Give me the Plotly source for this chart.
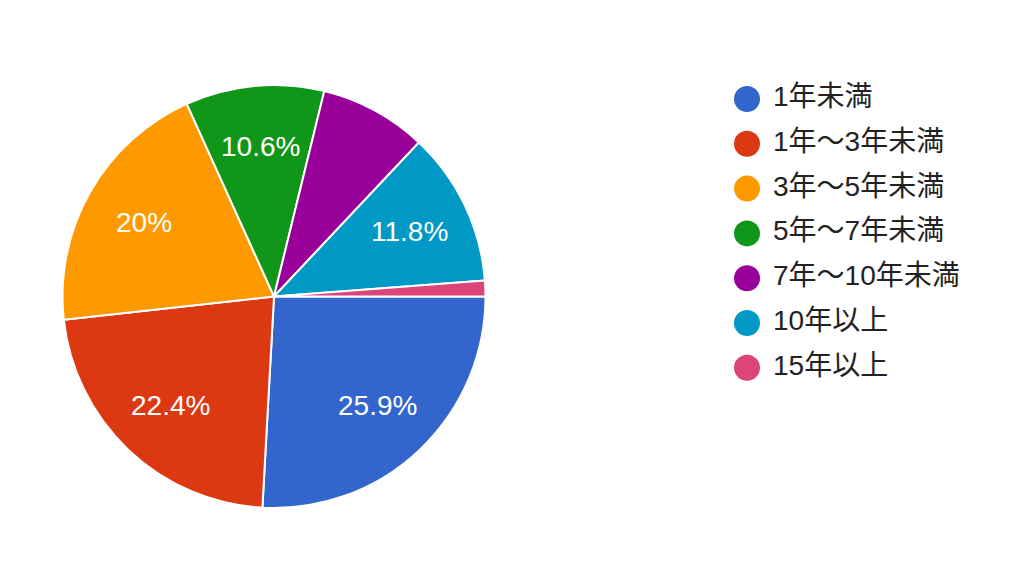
import math
import plotly.graph_objects as go

categories = ["1年未満", "1年～3年未満", "3年～5年未満", "5年～7年未満", "7年～10年未満", "10年以上", "15年以上"]
values = [25.9, 22.4, 20.0, 10.6, 8.2, 11.8, 1.2]
colors = ["#3366cc", "#dc3912", "#ff9900", "#109618", "#990099", "#0099c6", "#dd4477"]

FONT = "Liberation Sans, Arial, Noto Sans CJK JP, sans-serif"
W, H = 1024, 576

# pie geometry in pixels (layout)
CX, CY, R = 274, 296.5, 211.5
LABEL_R = 0.71

fig = go.Figure()
fig.add_trace(go.Pie(
    labels=categories,
    values=values,
    sort=False,
    direction="clockwise",
    rotation=90,
    marker=dict(colors=colors, line=dict(color="white", width=2)),
    textinfo="none",
    showlegend=False,
    hoverinfo="label+percent",
    domain=dict(x=[(CX - R) / W, (CX + R) / W], y=[1 - (CY + R) / H, 1 - (CY - R) / H]),
))

# slice labels positioned from the data (mid-angle of each slice)
total = sum(values)
cum = 0.0
for v in values:
    mid = (cum + v / 2) / total
    cum += v
    if v < 10:
        continue
    ang = 2 * math.pi * mid  # clockwise from 3 o'clock
    px = CX + LABEL_R * R * math.cos(ang)
    py = CY + LABEL_R * R * math.sin(ang)
    fig.add_annotation(
        x=px / W, y=1 - py / H, xref="paper", yref="paper",
        text=f"{v:g}%", showarrow=False,
        font=dict(color="white", size=28, family=FONT),
        xanchor="center", yanchor="middle",
    )

# custom legend drawn as scatter traces on hidden axes
idx = list(range(len(categories)))
fig.add_trace(go.Scatter(
    x=[30] * len(categories), y=idx, mode="markers",
    marker=dict(symbol="circle", size=26, color=colors),
    showlegend=False, hoverinfo="skip", cliponaxis=False,
))
fig.add_trace(go.Scatter(
    x=[56] * len(categories), y=idx, mode="text",
    text=categories, textposition="middle right",
    textfont=dict(size=28, color="#222222", family=FONT),
    showlegend=False, hoverinfo="skip", cliponaxis=False,
))

top_px, step = 99, 44.8
y0_px = top_px - step / 2
y1_px = top_px + step * (len(categories) - 0.5)
fig.update_layout(
    width=W, height=H,
    margin=dict(l=0, r=0, t=0, b=0),
    paper_bgcolor="white", plot_bgcolor="white",
    xaxis=dict(visible=False, domain=[717 / W, 1.0], range=[0, 307], fixedrange=True),
    yaxis=dict(visible=False, domain=[1 - y1_px / H, 1 - y0_px / H],
               range=[len(categories) - 0.5, -0.5], fixedrange=True),
    showlegend=False,
    font=dict(family=FONT),
)

fig.write_html("out.html")
